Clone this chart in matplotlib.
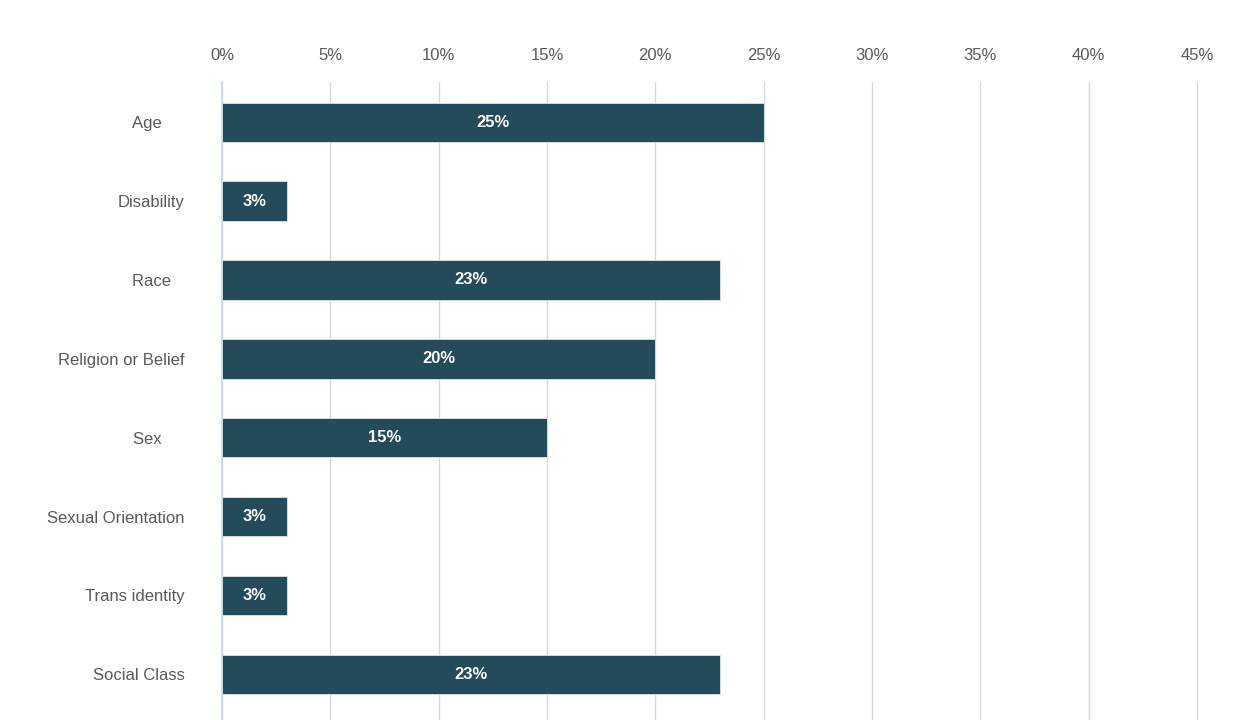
import matplotlib.pyplot as plt
from matplotlib.ticker import PercentFormatter

categories = ["Age", "Disability", "Race", "Religion or Belief", "Sex",
              "Sexual Orientation", "Trans identity", "Social Class"]
values = [25, 3, 23, 20, 15, 3, 3, 23]
# trailing spaces keep the odd label offsets of the original
label_pad = ["     ", "", "   ", "", "     ", "", "", ""]
x_ticks = [0, 5, 10, 15, 20, 25, 30, 35, 40, 45]

bar_color = "#234b5a"
text_gray = "#595959"

plt.rcParams["font.family"] = ["Liberation Sans", "DejaVu Sans"]

fig = plt.figure(figsize=(12.4, 7.2), dpi=100)
px_per_pct = (1197 - 222) / 45
x_max = 45.3
ax = fig.add_axes([222 / 1240, 0.0, x_max * px_per_pct / 1240, 1 - 82 / 720])

pos = list(range(len(categories)))
ax.barh(pos, values, height=0.5, color=bar_color, edgecolor="#dde6ea",
        linewidth=0.6, zorder=3)
for p, v in zip(pos, values):
    ax.text(v / 2, p, f"{v}%", ha="center", va="center", color="white",
            fontsize=12, fontweight="bold", zorder=4)

ax.set_xlim(0, x_max)
ax.set_ylim(7.58, -0.51)
ax.set_xticks(x_ticks)
ax.xaxis.set_major_formatter(PercentFormatter(decimals=0))
ax.xaxis.tick_top()
ax.tick_params(axis="x", length=0, pad=14, labelsize=12, labelcolor=text_gray)
ax.set_yticks(pos)
ax.set_yticklabels([c + s for c, s in zip(categories, label_pad)])
ax.tick_params(axis="y", length=0, pad=27, labelsize=12, labelcolor=text_gray)

ax.grid(axis="x", color="#d9d9d9", linewidth=1, zorder=0)
for side in ["top", "right", "bottom"]:
    ax.spines[side].set_visible(False)
ax.spines["left"].set_color("#c9d6ea")
ax.spines["left"].set_linewidth(1.2)

fig.savefig("out.png", dpi=100)
